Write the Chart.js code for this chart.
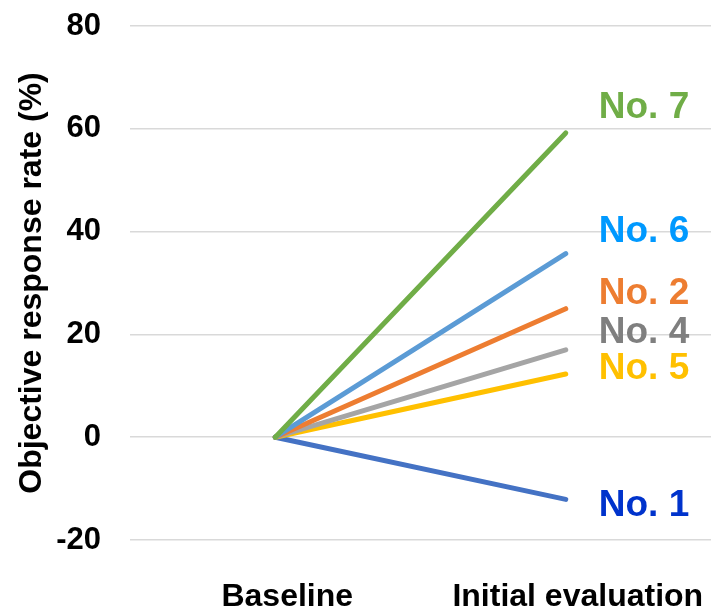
<!DOCTYPE html>
<html>
<head>
<meta charset="utf-8">
<script src="https://cdn.jsdelivr.net/npm/chart.js@4/dist/chart.umd.min.js"></script>
<style>
  html, body { margin: 0; padding: 0; background: #fff; }
  #wrap { width: 711px; height: 612px; position: relative; }
</style>
</head>
<body>
<div id="wrap"><canvas id="chart"></canvas></div>
<script>
// Data
const timepoints = ["Baseline", "Initial evaluation"];
const patients = ["No. 7", "No. 6", "No. 2", "No. 4", "No. 5", "No. 1"];
const baselineValues = [0, 0, 0, 0, 0, 0];
const initialValues = [59.2, 35.7, 25, 17, 12.3, -12.1];
// where each name tag sits, in % (the tags were nudged apart in the original)
const tagValues = [64, 40, 27.9, 20.3, 13.3, -13.3];
const yTicks = [-20, 0, 20, 40, 60, 80];

// Colours
const lineColors = ["#70AD47", "#5B9BD5", "#ED7D31", "#A5A5A5", "#FFC000", "#4472C4"];
const tagColors = ["#70AD47", "#0099FF", "#ED7D31", "#7F7F7F", "#FFC000", "#0033CC"];

const fontFamily = "'Liberation Sans', Arial, sans-serif";

// Plugin to write the patient names at the end of each line
const nameTags = {
  id: "nameTags",
  afterDatasetsDraw(chart) {
    const ctx = chart.ctx;
    const x = chart.scales.x;
    const y = chart.scales.y;
    ctx.save();
    ctx.font = "bold 37px " + fontFamily;
    ctx.textAlign = "left";
    ctx.textBaseline = "middle";
    patients.forEach((name, i) => {
      ctx.fillStyle = tagColors[i];
      ctx.fillText(name, x.getPixelForValue(1) + 33, y.getPixelForValue(tagValues[i]));
    });
    ctx.restore();
  }
};

const datasets = patients.map((name, i) => ({
  label: name,
  data: [baselineValues[i], initialValues[i]],
  borderColor: lineColors[i],
  backgroundColor: lineColors[i],
  borderWidth: 5,
  borderCapStyle: "round",
  borderJoinStyle: "round",
  pointRadius: 0,
  tension: 0,
  fill: false,
}));

new Chart(document.getElementById("chart"), {
  type: "line",
  data: { labels: timepoints, datasets: datasets },
  plugins: [nameTags],
  options: {
    responsive: true,
    maintainAspectRatio: false,
    animation: false,
    layout: { padding: { top: 26, right: 0, left: 0, bottom: 0 } },
    plugins: {
      legend: { display: false },
      tooltip: { enabled: false },
    },
    scales: {
      x: {
        offset: true,
        grid: { display: false },
        border: { display: false },
        ticks: {
          color: "#000",
          padding: 30,
          labelOffset: 12,
          font: { family: fontFamily, size: 32, weight: "bold" },
        },
        afterFit(scale) {
          scale.height = 72;
          scale.paddingLeft = 0;
          scale.paddingRight = 0;
        },
      },
      y: {
        min: -20,
        max: 80,
        afterBuildTicks(scale) { scale.ticks = yTicks.map(v => ({ value: v })); },
        grid: { color: "#D9D9D9", lineWidth: 1.5, drawTicks: false },
        border: { display: false },
        ticks: {
          color: "#000",
          padding: 29,
          font: { family: fontFamily, size: 31, weight: "bold" },
        },
        title: {
          display: true,
          text: "Objective response rate (%)",
          color: "#000",
          padding: { top: 13, bottom: 0 },
          font: { family: fontFamily, size: 32, weight: "bold" },
        },
        afterFit(scale) {
          scale.width = 130;
          scale.paddingTop = 0;
          scale.paddingBottom = 0;
        },
      },
    },
  },
});
</script>
</body>
</html>
